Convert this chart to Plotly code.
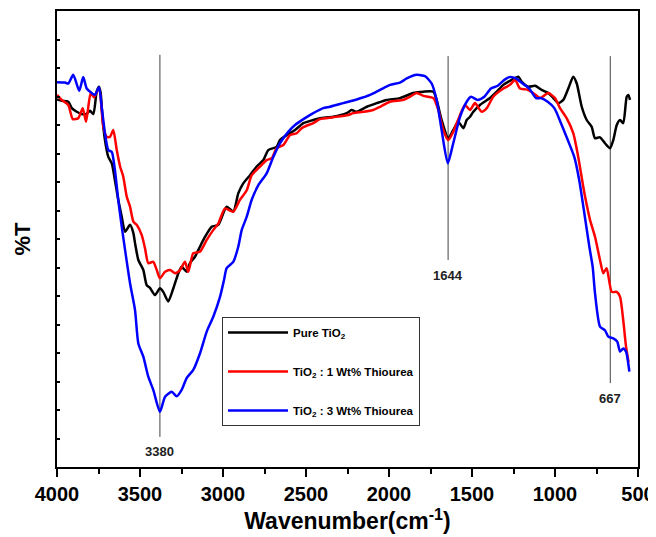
import plotly.graph_objects as go

# ---- data (wavenumber in cm^-1, %T in arbitrary units 0-100) ----
pure_wn = [4000, 3972, 3932, 3911, 3881, 3851, 3825, 3801, 3781, 3761, 3747, 3737, 3725, 3711, 3691, 3670, 3651,
           3631, 3610, 3590, 3560, 3540, 3530, 3510, 3480, 3460, 3440, 3410, 3380, 3360, 3330, 3299, 3269, 3249,
           3219, 3199, 3169, 3139, 3108, 3068, 3028, 2978, 2938, 2908, 2878, 2837, 2797, 2757, 2727, 2677, 2657,
           2616, 2566, 2516, 2456, 2416, 2336, 2255, 2225, 2195, 2134, 2074, 2014, 1934, 1854, 1793, 1733, 1713,
           1683, 1643, 1613, 1583, 1552, 1532, 1512, 1492, 1452, 1392, 1351, 1311, 1261, 1221, 1201, 1161, 1120,
           1080, 1040, 1010, 980, 950, 920, 890, 869, 839, 809, 779, 759, 729, 699, 669, 649, 628, 608, 589, 568,
           558, 548]
pure_t = [80.6, 80.3, 80.1, 78.7, 77.9, 77.4, 77.4, 78.1, 77.4, 82.3, 83.4, 82.0, 76.1, 71.7, 68.0, 66.6, 62.9,
          58.6, 54.9, 51.6, 53.1, 51.3, 49.1, 45.4, 43.2, 39.9, 39.3, 37.7, 39.2, 38.4, 36.3, 39.2, 42.5, 43.9,
          42.8, 44.7, 46.1, 48.3, 50.5, 52.7, 53.1, 57.1, 56.0, 60.0, 62.2, 64.0, 65.9, 67.3, 69.5, 70.2, 71.7,
          72.8, 73.9, 75.4, 76.1, 76.5, 76.8, 77.6, 78.3, 77.9, 79.0, 79.8, 80.5, 80.9, 82.0, 82.3, 82.3, 80.5,
          76.1, 72.1, 73.9, 75.7, 74.3, 76.1, 76.8, 77.9, 79.4, 80.9, 82.3, 83.8, 84.9, 85.6, 84.5, 83.4, 83.6,
          82.7, 82.0, 80.9, 79.8, 80.5, 83.0, 85.6, 84.1, 79.0, 76.1, 74.6, 72.1, 72.3, 71.0, 69.9, 71.7, 75.0,
          76.1, 75.4, 81.2, 81.6, 80.5]

thio1_wn = [4000, 3972, 3932, 3905, 3872, 3845, 3825, 3797, 3777, 3747, 3721, 3701, 3681, 3661, 3640, 3620, 3601,
            3580, 3560, 3540, 3520, 3490, 3470, 3450, 3420, 3399, 3380, 3349, 3319, 3289, 3259, 3229, 3209, 3179,
            3139, 3098, 3058, 3028, 2988, 2938, 2898, 2857, 2827, 2777, 2737, 2707, 2677, 2637, 2596, 2556, 2526,
            2486, 2456, 2416, 2336, 2245, 2215, 2155, 2095, 2054, 1994, 1914, 1873, 1833, 1793, 1733, 1703, 1673,
            1643, 1613, 1572, 1542, 1512, 1482, 1442, 1411, 1372, 1311, 1271, 1241, 1211, 1171, 1131, 1090, 1040,
            1000, 970, 930, 890, 860, 830, 819, 789, 759, 729, 709, 689, 658, 628, 608, 589, 572, 557]
thio1_t = [81.6, 80.5, 79.4, 76.3, 76.5, 78.7, 75.7, 82.0, 81.1, 83.1, 74.6, 72.4, 72.4, 73.9, 69.5, 65.9, 63.7,
           59.3, 57.1, 53.8, 53.1, 50.9, 48.0, 44.7, 45.0, 43.2, 41.4, 42.8, 43.2, 42.5, 43.2, 45.0, 42.8, 46.9,
           47.2, 49.8, 52.0, 53.4, 56.7, 56.0, 58.6, 60.7, 64.0, 65.9, 67.3, 67.7, 69.9, 70.6, 72.8, 73.2, 74.3,
           75.0, 75.4, 76.3, 76.7, 77.2, 77.6, 77.9, 78.3, 79.0, 80.1, 80.5, 81.2, 82.0, 81.4, 80.9, 78.3, 73.9,
           71.7, 73.5, 77.2, 79.4, 78.3, 79.8, 77.9, 78.7, 81.2, 83.0, 83.8, 84.9, 83.0, 82.8, 82.0, 80.9, 82.0,
           80.9, 78.7, 76.5, 73.2, 68.0, 61.5, 59.3, 54.2, 50.5, 45.4, 42.5, 43.6, 38.4, 38.4, 37.3, 32.2, 26.4, 23.0]

thio3_wn = [4000, 3952, 3932, 3902, 3866, 3842, 3821, 3791, 3771, 3747, 3731, 3711, 3691, 3670, 3651, 3631, 3610,
            3590, 3560, 3530, 3510, 3480, 3450, 3420, 3380, 3349, 3309, 3279, 3249, 3219, 3179, 3139, 3098, 3058,
            3018, 2994, 2978, 2938, 2908, 2887, 2857, 2827, 2787, 2737, 2697, 2657, 2607, 2566, 2506, 2456, 2396,
            2355, 2275, 2195, 2114, 2054, 1994, 1934, 1893, 1833, 1783, 1743, 1713, 1683, 1646, 1613, 1572, 1532,
            1506, 1466, 1426, 1386, 1345, 1305, 1275, 1235, 1195, 1155, 1114, 1084, 1044, 1004, 964, 923, 884, 854,
            823, 793, 773, 759, 729, 699, 679, 649, 625, 608, 589, 572, 552]
thio3_t = [84.4, 84.3, 84.1, 86.0, 82.5, 85.5, 83.0, 82.0, 81.6, 83.3, 79.0, 73.2, 69.5, 69.1, 65.1, 58.6, 52.7,
           47.6, 40.3, 34.4, 27.1, 24.2, 19.8, 16.9, 12.1, 15.4, 16.5, 15.5, 16.9, 19.5, 21.3, 24.9, 29.7, 33.0,
           37.3, 41.0, 43.6, 45.0, 48.3, 52.0, 54.9, 58.6, 61.8, 64.4, 68.0, 71.0, 73.5, 75.0, 76.5, 77.6, 78.7,
           79.0, 79.8, 80.6, 81.6, 82.7, 83.8, 84.3, 85.2, 86.0, 85.7, 84.1, 80.5, 73.9, 66.6, 71.0, 76.8, 80.1,
           81.2, 80.5, 81.2, 83.0, 83.6, 84.9, 85.5, 85.2, 84.1, 83.0, 80.9, 80.9, 80.1, 78.7, 75.4, 71.7, 68.0, 62.9,
           55.6, 48.3, 43.9, 38.1, 30.8, 30.0, 28.6, 28.2, 27.5, 25.3, 26.0, 25.3, 20.9]

series_names = ["Pure TiO<sub>2</sub>", "TiO<sub>2</sub> : 1 Wt% Thiourea", "TiO<sub>2</sub> : 3 Wt% Thiourea"]
series_colors = ["#000000", "#ff0000", "#0000ff"]

peak_wn = [3380, 1644, 667]
peak_labels = ["3380", "1644", "667"]
peak_line_top = [90.4, 90.1, 90.1]
peak_line_bottom = [6.6, 45.4, 18.4]
peak_label_y = [3.4, 42.0, 15.0]

x_ticks = [4000, 3500, 3000, 2500, 2000, 1500, 1000, 500]

fig = go.Figure()

# peak marker lines
for wn, top, bot in zip(peak_wn, peak_line_top, peak_line_bottom):
    fig.add_trace(go.Scatter(x=[wn, wn], y=[top, bot], mode="lines",
                             line=dict(color="#444444", width=1), showlegend=False, hoverinfo="skip"))

for i, (xs, ys) in enumerate([(pure_wn, pure_t), (thio1_wn, thio1_t), (thio3_wn, thio3_t)]):
    fig.add_trace(go.Scatter(x=xs, y=ys, mode="lines", name=series_names[i],
                             line=dict(color=series_colors[i], width=2.5, shape="spline", smoothing=0.6),
                             legendgroup=str(i)))

for wn, lab, ly in zip(peak_wn, peak_labels, peak_label_y):
    fig.add_annotation(x=wn, y=ly, text=lab, showarrow=False,
                       font=dict(family="Arial", size=13, color="#222222", weight="bold"))

# the page body has an 8px margin, so the figure is sized/offset to compensate
fig.update_layout(
    width=648, height=529,
    margin=dict(l=49, r=18, t=3, b=70),
    plot_bgcolor="white", paper_bgcolor="white",
    font=dict(family="Arial", color="black"),
    showlegend=True,
    legend=dict(x=0.284, y=0.329, xanchor="left", yanchor="top",
                bordercolor="#333333", borderwidth=1, bgcolor="white",
                font=dict(family="Arial", size=11.5, color="black", weight="bold"),
                traceorder="grouped", tracegroupgap=20, itemwidth=60),
    xaxis=dict(range=[4000, 500], tickvals=x_ticks, ticks="outside", ticklen=8, tickwidth=1.5,
               tickcolor="black", showline=True, linecolor="black", linewidth=1.5, mirror=True,
               showgrid=False, zeroline=False, automargin=False,
               minor=dict(dtick=250, ticks="outside", ticklen=5, tickwidth=1.5, tickcolor="black"),
               tickfont=dict(family="Arial", size=20, color="black", weight="bold"),
               title=dict(text="Wavenumber(cm<sup>-1</sup>)", standoff=4,
                          font=dict(family="Arial", size=23, color="black", weight="bold"))),
    yaxis=dict(range=[0, 100], dtick=6.25, ticks="inside", ticklen=3, tickwidth=1.5, tickcolor="black",
               showticklabels=False, showline=True, linecolor="black", linewidth=1.5, mirror=True,
               showgrid=False, zeroline=False, automargin=False,
               title=dict(text="%T", standoff=19,
                          font=dict(family="Arial", size=22, color="black", weight="bold"))),
)

fig.write_html("out.html")
